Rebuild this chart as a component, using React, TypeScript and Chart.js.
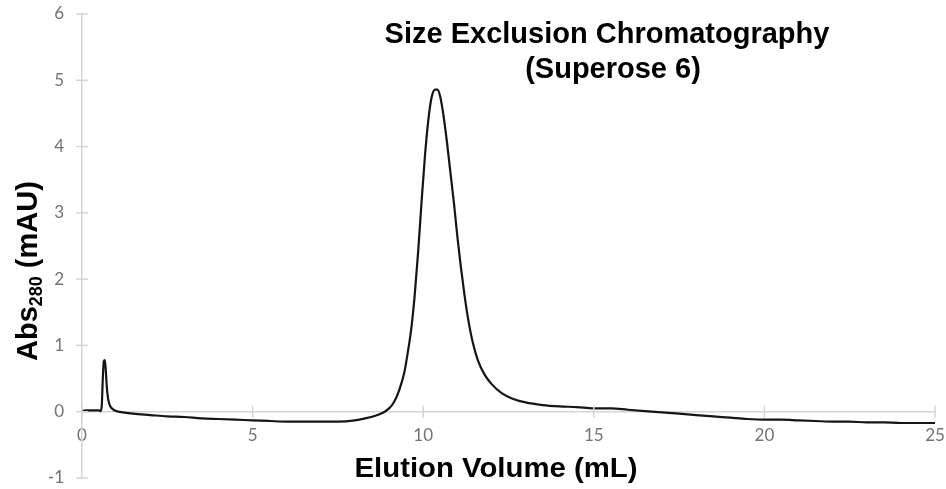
import React, { useEffect, useRef } from "react";
import { Chart, registerables } from "chart.js";

Chart.register(...registerables);

// Elution volume (mL)
const volumes = [
  0.0, 0.1, 0.2, 0.3, 0.4, 0.5, 0.55, 0.58, 0.61, 0.64, 0.67, 0.7, 0.73, 0.77, 0.82, 0.9,
  1.0, 1.2, 1.5, 2.0, 2.5, 3.0, 3.5, 4.0, 4.5, 5.0, 5.5, 6.0, 6.5, 7.0, 7.5, 8.0, 8.3, 8.6,
  8.8, 9.0, 9.15, 9.3, 9.45, 9.55, 9.65, 9.75, 9.85, 9.95, 10.05, 10.15, 10.25, 10.35, 10.42,
  10.5, 10.6, 10.7, 10.8, 10.9, 11.0, 11.1, 11.2, 11.3, 11.45, 11.6, 11.8, 12.0, 12.3, 12.6,
  13.0, 13.5, 14.0, 14.5, 15.0, 15.5, 16.0, 16.5, 17.0, 17.5, 18.0, 18.5, 19.0, 19.5, 20.0,
  20.5, 21.0, 21.5, 22.0, 22.5, 23.0, 23.5, 24.0, 24.5, 25.0,
];

// Abs280 (mAU)
const absorbance = [
  0.01, 0.02, 0.02, 0.02, 0.02, 0.02, 0.01, 0.1, 0.5, 0.76, 0.78, 0.6, 0.35, 0.18, 0.09, 0.04,
  0.01, -0.01, -0.03, -0.05, -0.07, -0.08, -0.1, -0.11, -0.12, -0.13, -0.14, -0.15, -0.15, -0.15, -0.15, -0.13, -0.1, -0.06,
  -0.02, 0.05, 0.15, 0.33, 0.6, 0.9, 1.25, 1.75, 2.4, 3.15, 3.85, 4.4, 4.75, 4.86, 4.86,
  4.75, 4.45, 4.05, 3.6, 3.15, 2.65, 2.2, 1.8, 1.45, 1.05, 0.78, 0.56, 0.42, 0.28, 0.2,
  0.14, 0.1, 0.08, 0.07, 0.05, 0.05, 0.03, 0.01, -0.01, -0.03, -0.05, -0.07, -0.09, -0.11, -0.12,
  -0.12, -0.13, -0.14, -0.15, -0.15, -0.16, -0.16, -0.17, -0.17, -0.17,
];

const xTickValues = [0, 5, 10, 15, 20, 25];
const yTickValues = [-1, 0, 1, 2, 3, 4, 5, 6];
const titleLines = ["Size Exclusion Chromatography", "(Superose 6)"];
const xAxisTitle = "Elution Volume (mL)";
const yAxisTitleMain = "Abs";
const yAxisTitleSub = "280";
const yAxisTitleRest = " (mAU)";

const AXIS_COLOR = "#d4d4d4";
const TICK_TEXT = "#737373";
const BOLD = "'Liberation Sans', Arial, sans-serif";
const TICK_FONT = { family: "Lato, 'Open Sans', sans-serif", size: 17 };

const annotations = {
  id: "annotations",
  afterDraw(chart: any) {
    const ctx = chart.ctx as CanvasRenderingContext2D;
    const xs = chart.scales.x;
    const ys = chart.scales.y;
    const area = chart.chartArea;
    ctx.save();

    // cross tick marks on both axes
    ctx.strokeStyle = AXIS_COLOR;
    ctx.lineWidth = 1.5;
    const y0 = ys.getPixelForValue(0);
    xTickValues.forEach((v) => {
      const px = xs.getPixelForValue(v);
      ctx.beginPath();
      ctx.moveTo(px, y0 - 6);
      ctx.lineTo(px, y0 + 6);
      ctx.stroke();
    });
    yTickValues.forEach((v) => {
      const py = ys.getPixelForValue(v);
      ctx.beginPath();
      ctx.moveTo(area.left - 6, py);
      ctx.lineTo(area.left + 6, py);
      ctx.stroke();
    });

    ctx.fillStyle = "#000";
    // title
    ctx.font = `bold 29px ${BOLD}`;
    ctx.textAlign = "center";
    ctx.textBaseline = "alphabetic";
    ctx.fillText(titleLines[0], 607, 43);
    ctx.fillText(titleLines[1], 613, 78);

    // x axis title
    ctx.font = `bold 27px ${BOLD}`;
    const w = ctx.measureText(xAxisTitle).width;
    ctx.save();
    ctx.translate(496, 477);
    ctx.scale(283 / w, 1);
    ctx.fillText(xAxisTitle, 0, 0);
    ctx.restore();

    // y axis title with subscript
    ctx.save();
    ctx.translate(37, 361);
    ctx.rotate(-Math.PI / 2);
    ctx.textAlign = "left";
    ctx.font = `bold 29px ${BOLD}`;
    ctx.fillText(yAxisTitleMain, 0, 0);
    let off = ctx.measureText(yAxisTitleMain).width;
    ctx.font = `bold 18px ${BOLD}`;
    ctx.fillText(yAxisTitleSub, off, 5);
    off += ctx.measureText(yAxisTitleSub).width;
    ctx.font = `bold 29px ${BOLD}`;
    ctx.fillText(yAxisTitleRest, off, 0);
    ctx.restore();

    ctx.restore();
  },
};

export default function App() {
  const ref = useRef<HTMLCanvasElement | null>(null);

  useEffect(() => {
    if (!ref.current) return;
    const chart = new Chart(ref.current, {
      type: "line",
      data: {
        datasets: [
          {
            data: volumes.map((v, i) => ({ x: v, y: absorbance[i] })),
            borderColor: "#151515",
            borderWidth: 2.2,
            pointRadius: 0,
            cubicInterpolationMode: "monotone",
            fill: false,
          },
        ],
      },
      options: {
        responsive: false,
        animation: false,
        devicePixelRatio: 1,
        layout: { padding: { left: 0, right: 11, top: 14, bottom: 11 } },
        plugins: {
          legend: { display: false },
          tooltip: { enabled: false },
          title: { display: false },
        },
        scales: {
          x: {
            type: "linear",
            min: 0,
            max: 25,
            position: { y: 0 } as any,
            afterBuildTicks: (s: any) => {
              s.ticks = xTickValues.map((v) => ({ value: v }));
            },
            ticks: {
              color: TICK_TEXT,
              font: TICK_FONT,
              padding: 0,
              maxRotation: 0,
            },
            grid: {
              drawOnChartArea: false,
              drawTicks: true,
              tickLength: 14,
              tickColor: "rgba(0,0,0,0)",
            },
            border: { display: true, color: AXIS_COLOR, width: 1.5 },
          },
          y: {
            type: "linear",
            min: -1,
            max: 6,
            afterBuildTicks: (s: any) => {
              s.ticks = yTickValues.map((v) => ({ value: v }));
            },
            afterFit: (s: any) => {
              s.width = 82;
            },
            ticks: {
              color: TICK_TEXT,
              font: TICK_FONT,
              padding: 0,
            },
            grid: {
              drawOnChartArea: false,
              drawTicks: true,
              tickLength: 18,
              tickColor: "rgba(0,0,0,0)",
            },
            border: { display: true, color: AXIS_COLOR, width: 1.5 },
          },
        },
      },
      plugins: [annotations],
    });
    return () => chart.destroy();
  }, []);

  return (
    <div style={{ position: "fixed", left: 0, top: 0, width: 946, height: 489, background: "#fff" }}>
      <canvas ref={ref} width={946} height={489} style={{ width: 946, height: 489, display: "block" }} />
    </div>
  );
}
